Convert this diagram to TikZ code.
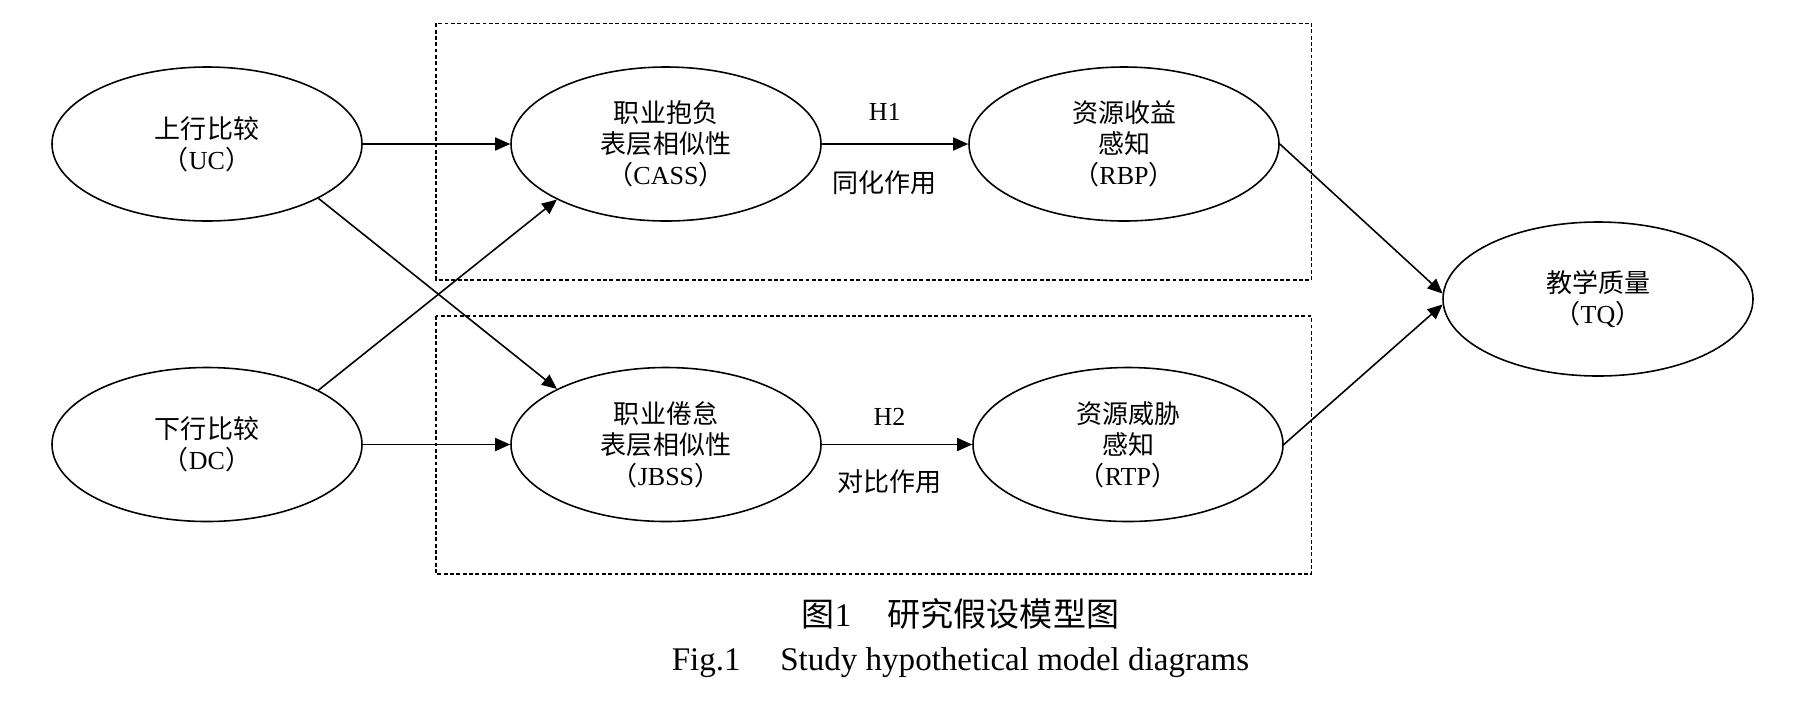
\documentclass[tikz,border=0pt]{standalone}
\usepackage{fontspec}
\setmainfont{Liberation Serif}
\newfontfamily\cjk{Noto Sans CJK SC}
\newcommand\zh[1]{{\cjk #1}}
\usetikzlibrary{shapes.geometric,arrows.meta}
\tikzset{
  var/.style={draw, ellipse, line width=0.45pt, minimum width=3.1cm, minimum height=1.54cm,
    inner sep=0pt, align=center, font=\fontsize{7.4}{8.8}\selectfont},
  link/.style={-{Triangle[length=0.15cm,width=0.13cm]}, line width=0.45pt},
  group/.style={draw, dash pattern=on 1.1pt off 0.7pt, line width=0.4pt},
  lab/.style={font=\fontsize{7.4}{8.8}\selectfont, inner sep=0pt},
  captext/.style={font=\fontsize{9.4}{11}\selectfont, inner sep=0pt, anchor=base}
}

\begin{document}
\begin{tikzpicture}
  \useasboundingbox (0,0) rectangle (17.96,7);
  \draw [group] (4.36,6.767) rectangle (13.116,4.20);
  \draw [group] (4.36,3.84) rectangle (13.116,1.26);
  \node [var] (UC) at (2.07,5.56) {\zh{上行比较}\\\zh{（}UC\zh{）}};
  \node [var] (DC) at (2.07,2.555) {\zh{下行比较}\\\zh{（}DC\zh{）}};
  \node [var] (CASS) at (6.66,5.56) {\zh{职业抱负}\\\zh{表层相似性}\\\zh{（}CASS\zh{）}};
  \node [var] (JBSS) at (6.66,2.555) {\zh{职业倦怠}\\\zh{表层相似性}\\\zh{（}JBSS\zh{）}};
  \node [var] (RBP) at (11.24,5.56) {\zh{资源收益}\\\zh{感知}\\\zh{（}RBP\zh{）}};
  \node [var] (RTP) at (11.28,2.555) {\zh{资源威胁}\\\zh{感知}\\\zh{（}RTP\zh{）}};
  \node [var] (TQ) at (15.98,4.01) {\zh{教学质量}\\\zh{（}TQ\zh{）}};
  \draw [link] (UC) -- (CASS);
  \draw [link] (DC) -- (JBSS);
  \draw [link] (UC.-26.5) -- (JBSS.153.9);
  \draw [link] (DC.26.5) -- (CASS.-153.9);
  \draw [link] (CASS) -- (RBP)
    node [lab,pos=0.43,yshift=0.32cm] {H1}
    node [lab,pos=0.43,yshift=-0.39cm] {\zh{同化作用}};
  \draw [link] (JBSS) -- (RTP)
    node [lab,pos=0.45,yshift=0.28cm] {H2}
    node [lab,pos=0.45,yshift=-0.37cm] {\zh{对比作用}};
  \draw [link] (RBP.east) -- (TQ.178);
  \draw [link] (RTP.east) -- (TQ.182);
  \node [captext] (cn) at (9.605,0.74) {\zh{图}1\hspace{1.1em}\zh{研究假设模型图}};
  \node [captext] (en) at (9.605,0.30) {Fig.1\hspace{1.2em}Study hypothetical model diagrams};
\end{tikzpicture}
\end{document}
